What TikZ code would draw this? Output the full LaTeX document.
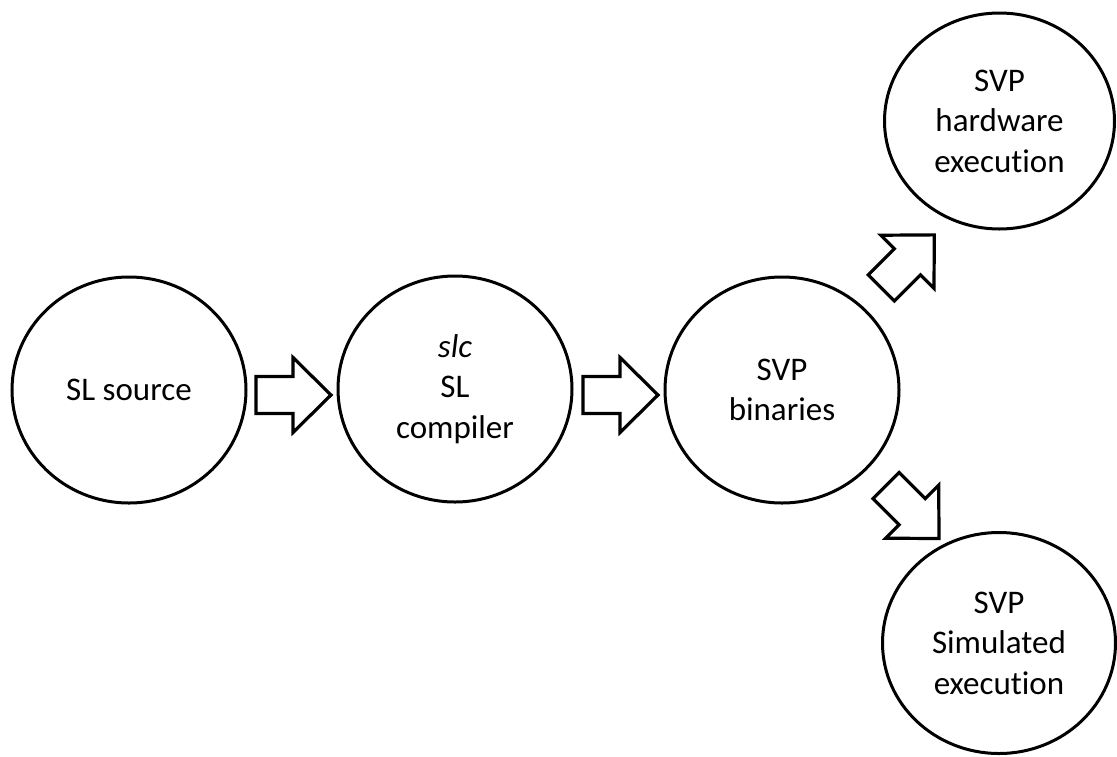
\documentclass[tikz,border=0pt]{standalone}
\usepackage{fontspec}
\setmainfont{Carlito}[Ligatures=NoCommon]
\usetikzlibrary{shapes.geometric}
\tikzset{
  stage/.style={ellipse, draw=black, line width=3pt, inner sep=0pt, align=center,
    font=\fontsize{33}{40.5}\selectfont},
  arrowline/.style={draw=black, fill=white, line width=3.2pt, line join=miter},
  blockarrow/.pic={
    \path[arrowline] (0,-18.5) -- (37,-18.5) -- (37,-37.5) -- (75,0) -- (37,37.5) -- (37,18.5) -- (0,18.5) -- cycle;
  }
}
\begin{document}
\begin{tikzpicture}[x=1pt,y=-1pt]
\useasboundingbox (0,0) rectangle (1117,756);
\node[stage, minimum width=234pt, minimum height=226pt] (src) at (129,390) {SL source};
\node[stage, minimum width=234pt, minimum height=226pt] (slc) at (455,389) {\textit{slc}\\SL\\compiler};
\node[stage, minimum width=234pt, minimum height=226pt] (bin) at (782,390) {SVP\\binaries};
\node[stage, minimum width=230pt, minimum height=216pt] (hw) at (999.5,121) {SVP\\hardware\\execution};
\node[stage, minimum width=233pt, minimum height=221pt] (sim) at (999,643) {SVP\\Simulated\\execution};
\pic at (256,395) {blockarrow};
\pic at (583,395) {blockarrow};
\pic[rotate=45] at (881.3,287.9) {blockarrow};
\pic[rotate=-45] at (886,485.5) {blockarrow};
\end{tikzpicture}
\end{document}
